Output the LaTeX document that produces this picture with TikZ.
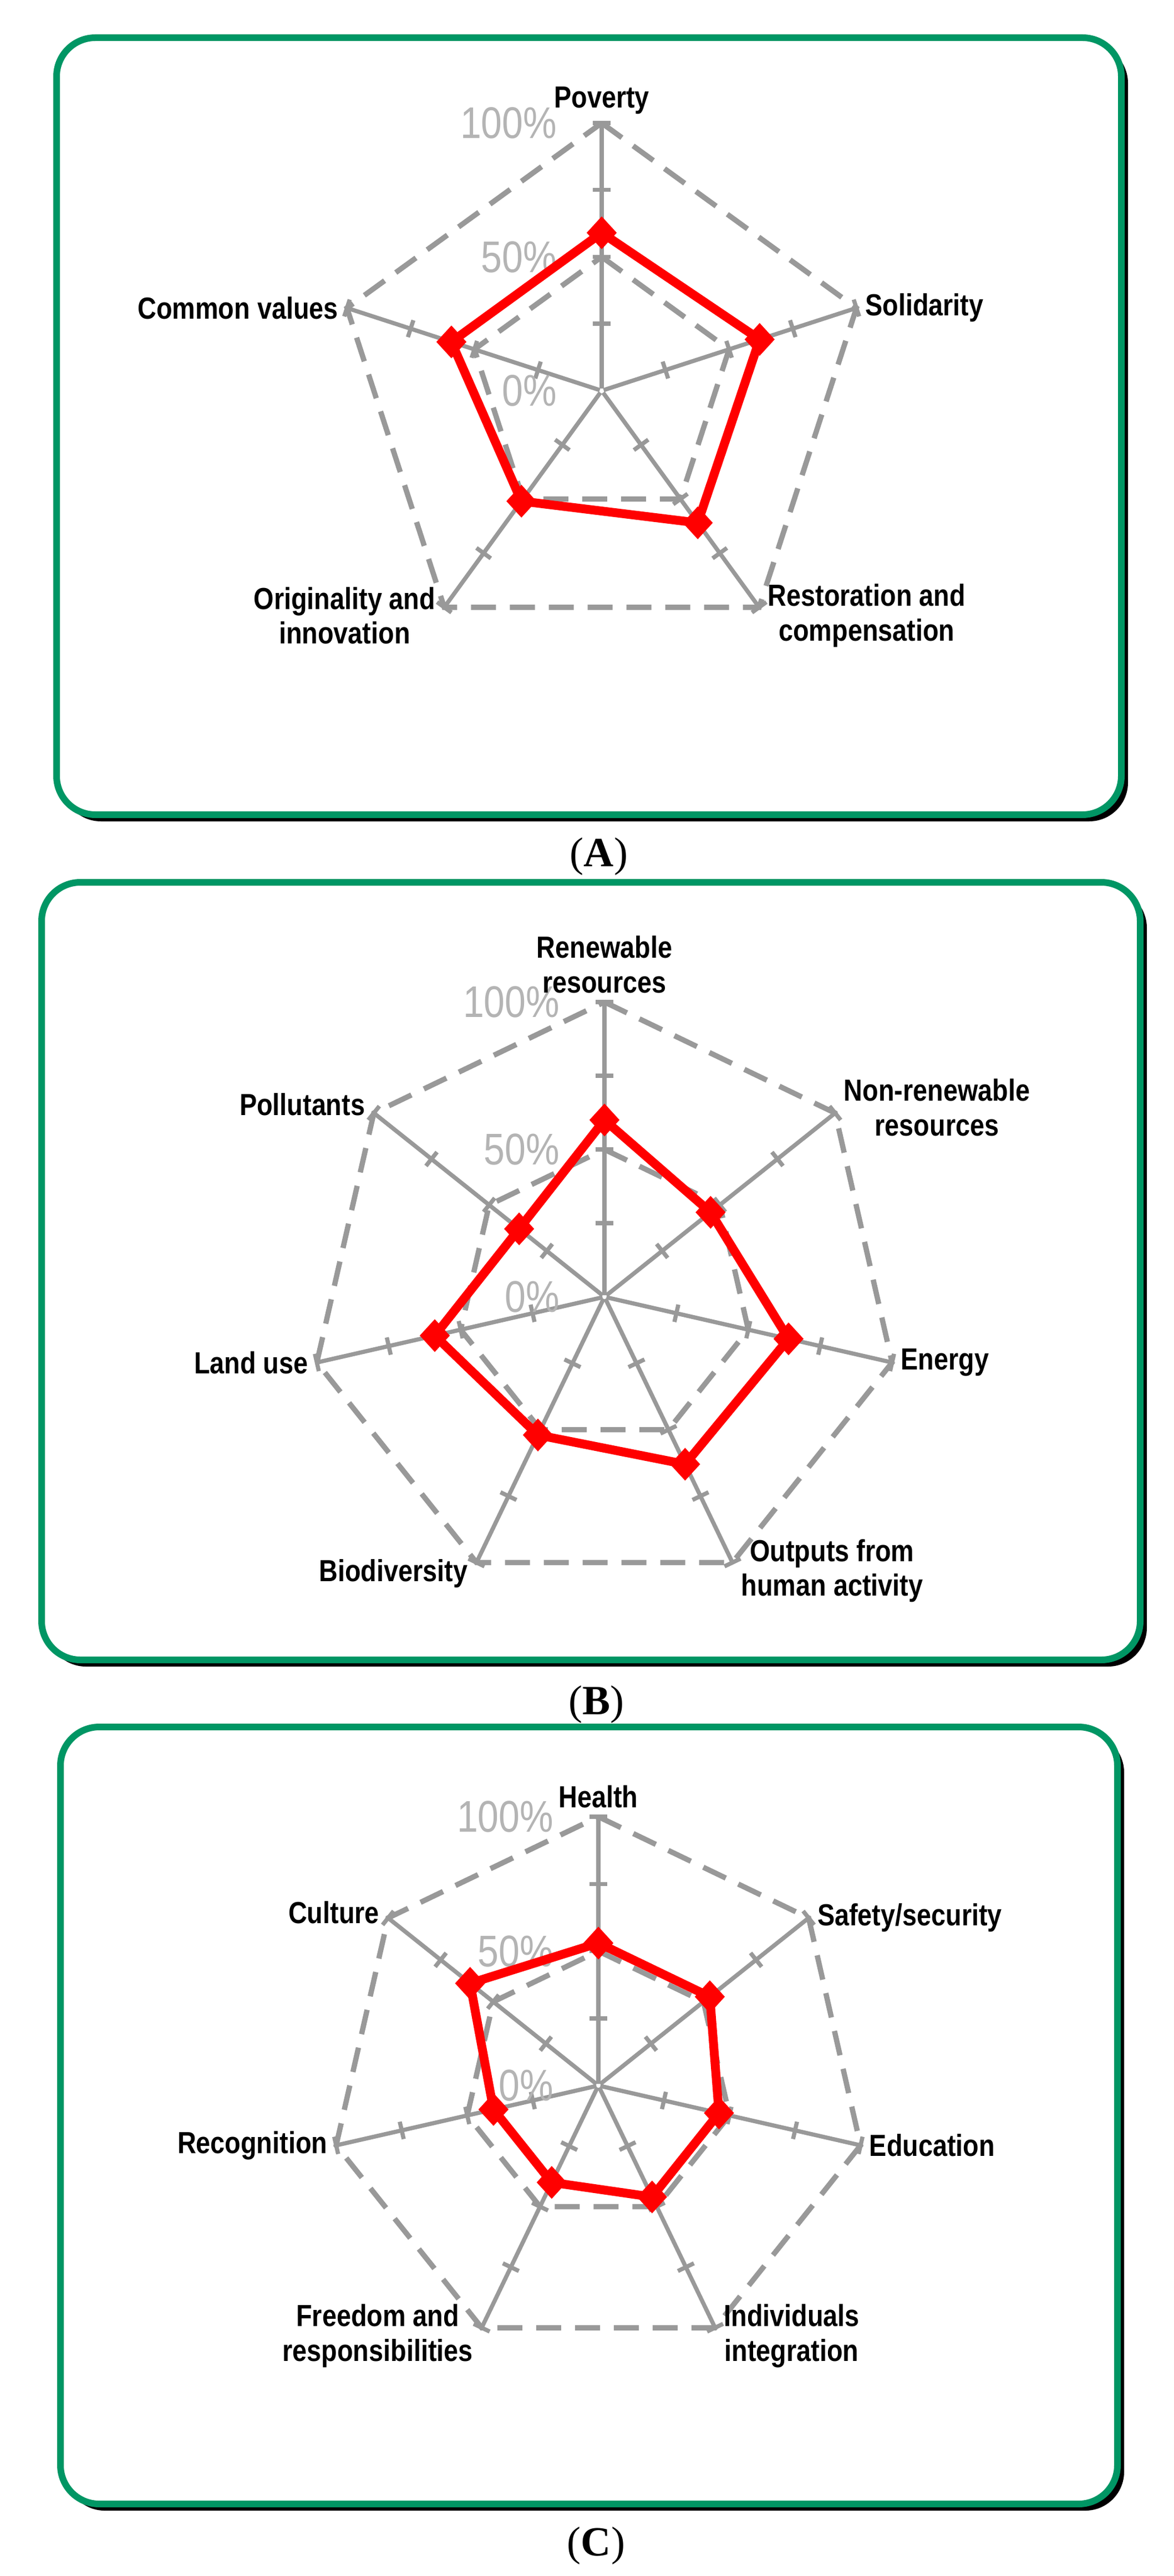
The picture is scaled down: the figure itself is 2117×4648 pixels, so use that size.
\documentclass[tikz,border=0pt]{standalone}
\usepackage{fontspec}
\setmainfont{Liberation Sans}
\newfontfamily\lblfont{Liberation Sans}[FakeStretch=0.85]
\newfontfamily\capfont{Liberation Serif}
\usetikzlibrary{shapes.geometric}
\definecolor{framegreen}{RGB}{0,150,100}
\definecolor{axisgray}{RGB}{153,153,153}
\definecolor{pctgray}{RGB}{180,180,180}
\tikzset{
  shadow/.style={fill=black, rounded corners=14pt},
  frame/.style={draw=framegreen, fill=white, line width=2.4pt, rounded corners=14pt},
  axis/.style={draw=axisgray, line width=1.5pt},
  grid/.style={draw=axisgray, line width=1.9pt, dash pattern=on 9pt off 5pt},
  score/.style={draw=red, line width=3.2pt, line join=round},
  scoremark/.style={diamond, fill=red, inner sep=0pt, minimum width=11pt, minimum height=12pt},
  lbl/.style={font=\lblfont\bfseries\fontsize{11}{12.5}\selectfont, align=center, inner sep=3pt},
  pct/.style={text=pctgray, font=\lblfont\fontsize{16}{18}\selectfont, anchor=east, inner sep=0pt},
  caption/.style={font=\capfont\fontsize{15}{17}\selectfont}
}
\begin{document}
\begin{tikzpicture}[x=0.2pt, y=-0.2pt]
  \useasboundingbox (0,0) rectangle (2117,4648);

  % (A) social values
  \fill[shadow] (112,80) rectangle (2034,1482);
  \draw[frame] (102,68) rectangle (2022,1470);
  \node[caption] (capA) at (1080,1545) {(\textbf{A})};
  \begin{scope}[shift={(1085,705)}, x=0.2pt, y=0.2pt]
    \def\R{483}
    \node[inner sep=0pt] (cA) at (0,0) {};
    \foreach \i in {0,...,4} {
      \coordinate (aA\i) at ({90-\i*72}:\R);
      \coordinate (hA\i) at ({90-\i*72}:\R/2);
      \draw[axis] (cA) -- (aA\i);
      \foreach \f in {0.25,0.5,0.75,1}
        \draw[axis, rotate={90-\i*72}] (\f*\R,-16) -- (\f*\R,16);
    }
    \draw[grid] (aA0) -- (aA1) -- (aA2) -- (aA3) -- (aA4) -- cycle;
    \draw[grid] (hA0) -- (hA1) -- (hA2) -- (hA3) -- (hA4) -- cycle;
    \node[pct] (pctA100) at (-80,\R) {100\%};
    \node[pct] (pctA50) at (-80,\R/2) {50\%};
    \node[pct] (pctA0) at (-80,0) {0\%};
    \foreach \i/\v in {0/0.59,1/0.62,2/0.61,3/0.51,4/0.59}
      \coordinate (sA\i) at ({90-\i*72}:\v*\R);
    \draw[score] (sA0) -- (sA1) -- (sA2) -- (sA3) -- (sA4) -- cycle;
    \foreach \i in {0,...,4}
      \node[scoremark] (mA\i) at (sA\i) {};
    \foreach \i/\txt/\anc/\dy in {0/Poverty/south/0, 1/Solidarity/west/0,
        2/{Restoration and\\compensation}/west/-3, 3/{Originality and\\innovation}/east/-3,
        4/Common values/east/0}
      \node[lbl, anchor=\anc, yshift=\dy pt] (lA\i) at (aA\i) {\txt};
  \end{scope}

  % (B) environmental values
  \fill[shadow] (85,1604) rectangle (2068,3007);
  \draw[frame] (75,1592) rectangle (2056,2995);
  \node[caption] (capB) at (1075,3075) {(\textbf{B})};
  \begin{scope}[shift={(1090,2340)}, x=0.2pt, y=0.2pt]
    \def\R{532}
    \node[inner sep=0pt] (cB) at (0,0) {};
    \foreach \i in {0,...,6} {
      \coordinate (aB\i) at ({90-\i*360/7}:\R);
      \coordinate (hB\i) at ({90-\i*360/7}:\R/2);
      \draw[axis] (cB) -- (aB\i);
      \foreach \f in {0.25,0.5,0.75,1}
        \draw[axis, rotate={90-\i*360/7}] (\f*\R,-16) -- (\f*\R,16);
    }
    \draw[grid] (aB0) -- (aB1) -- (aB2) -- (aB3) -- (aB4) -- (aB5) -- (aB6) -- cycle;
    \draw[grid] (hB0) -- (hB1) -- (hB2) -- (hB3) -- (hB4) -- (hB5) -- (hB6) -- cycle;
    \node[pct] (pctB100) at (-80,\R) {100\%};
    \node[pct] (pctB50) at (-80,\R/2) {50\%};
    \node[pct] (pctB0) at (-80,0) {0\%};
    \foreach \i/\v in {0/0.60,1/0.46,2/0.64,3/0.63,4/0.52,5/0.59,6/0.37}
      \coordinate (sB\i) at ({90-\i*360/7}:\v*\R);
    \draw[score] (sB0) -- (sB1) -- (sB2) -- (sB3) -- (sB4) -- (sB5) -- (sB6) -- cycle;
    \foreach \i in {0,...,6}
      \node[scoremark] (mB\i) at (sB\i) {};
    \foreach \i/\txt/\anc/\dy in {0/{Renewable\\resources}/south/0,
        1/{Non-renewable\\resources}/west/2, 2/Energy/west/0,
        3/{Outputs from\\human activity}/west/-3, 4/Biodiversity/east/-4,
        5/Land use/east/0, 6/Pollutants/east/3}
      \node[lbl, anchor=\anc, yshift=\dy pt] (lB\i) at (aB\i) {\txt};
  \end{scope}

  % (C) individual values
  \fill[shadow] (119,3128) rectangle (2027,4530);
  \draw[frame] (109,3116) rectangle (2015,4518);
  \node[caption] (capC) at (1075,4593) {(\textbf{C})};
  \begin{scope}[shift={(1079,3763)}, x=0.2pt, y=0.2pt]
    \def\R{485}
    \node[inner sep=0pt] (cC) at (0,0) {};
    \foreach \i in {0,...,6} {
      \coordinate (aC\i) at ({90-\i*360/7}:\R);
      \coordinate (hC\i) at ({90-\i*360/7}:\R/2);
      \draw[axis] (cC) -- (aC\i);
      \foreach \f in {0.25,0.5,0.75,1}
        \draw[axis, rotate={90-\i*360/7}] (\f*\R,-16) -- (\f*\R,16);
    }
    \draw[grid] (aC0) -- (aC1) -- (aC2) -- (aC3) -- (aC4) -- (aC5) -- (aC6) -- cycle;
    \draw[grid] (hC0) -- (hC1) -- (hC2) -- (hC3) -- (hC4) -- (hC5) -- (hC6) -- cycle;
    \node[pct] (pctC100) at (-80,\R) {100\%};
    \node[pct] (pctC50) at (-80,\R/2) {50\%};
    \node[pct] (pctC0) at (-80,0) {0\%};
    \foreach \i/\v in {0/0.53,1/0.53,2/0.46,3/0.46,4/0.40,5/0.40,6/0.61}
      \coordinate (sC\i) at ({90-\i*360/7}:\v*\R);
    \draw[score] (sC0) -- (sC1) -- (sC2) -- (sC3) -- (sC4) -- (sC5) -- (sC6) -- cycle;
    \foreach \i in {0,...,6}
      \node[scoremark] (mC\i) at (sC\i) {};
    \foreach \i/\txt/\anc/\dy in {0/Health/south/0, 1/{Safety/security}/west/0,
        2/Education/west/0, 3/{Individuals\\integration}/west/-3,
        4/{Freedom and\\responsibilities}/east/-3, 5/Recognition/east/0,
        6/Culture/east/2}
      \node[lbl, anchor=\anc, yshift=\dy pt] (lC\i) at (aC\i) {\txt};
  \end{scope}
\end{tikzpicture}
\end{document}
